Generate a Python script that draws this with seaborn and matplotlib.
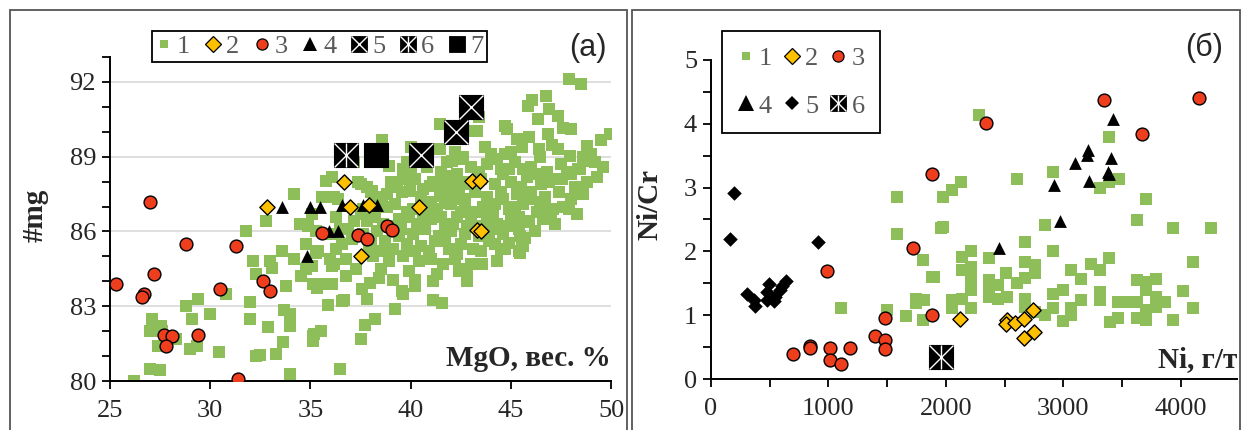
import numpy as np
import pandas as pd
import seaborn as sns
import matplotlib.pyplot as plt
from matplotlib.lines import Line2D
from matplotlib.legend_handler import HandlerTuple
from matplotlib.patches import Rectangle
from matplotlib.ticker import MultipleLocator

# ---------------- panel (a): MgO (wt.%) vs #mg ----------------
a_grp1 = [
    (26.2, 80.0), (27.0, 80.5), (27.5, 80.45), (27.1, 82.5), (27.0, 82.0), (27.55, 82.2), (27.4, 81.4),
    (27.6, 82.0), (28.3, 81.7), (28.8, 83.0), (29.4, 83.3), (29.1, 82.5), (29.0, 81.3), (29.35, 81.4),
    (30.0, 82.7), (30.45, 81.15), (30.8, 83.5), (31.8, 86.0), (32.15, 84.8), (32.3, 84.3), (32.0, 83.15),
    (32.0, 82.5), (32.3, 81.0), (32.5, 81.05), (32.8, 86.4), (33.0, 84.8), (33.1, 84.55), (32.9, 82.15),
    (33.3, 81.1), (33.65, 81.55), (33.7, 82.85), (34.0, 82.7), (33.8, 83.8), (34.0, 82.2), (34.0, 80.3),
    (34.5, 86.3), (34.55, 84.2), (34.8, 85.5), (35.06, 84.6), (35.15, 83.9), (35.15, 81.8), (35.15, 81.6),
    (35.3, 85.15), (35.06, 86.7), (35.35, 83.75), (35.4, 85.2), (34.8, 84.5), (35.65, 83.9), (36.06, 83.9),
    (35.9, 83.06), (36.6, 83.2), (36.0, 84.9), (36.2, 84.7), (35.2, 81.9), (35.55, 82.0), (36.5, 80.5),
    (37.5, 81.7), (37.7, 82.26), (38.2, 82.5), (37.8, 83.3), (37.55, 83.7), (37.97, 83.94), (38.4, 84.14),
    (38.5, 84.5), (39.1, 84.07), (39.2, 82.9), (39.6, 83.5), (40.2, 84.07), (40.2, 83.8), (41.1, 84.0),
    (41.1, 83.27), (41.55, 83.13), (42.8, 84.5), (42.8, 84.0), (43.55, 84.7), (44.3, 84.8), (45.46, 85.15),
    (45.55, 85.5), (45.46, 85.8), (47.1, 86.9), (46.46, 86.9), (36.7, 83.27), (39.55, 83.6), (36.1, 84.6),
    (38.56, 89.65), (38.9, 88.64), (40.0, 89.4), (39.8, 88.78), (41.47, 90.3), (41.47, 89.3), (42.2, 89.2),
    (42.05, 88.84), (42.6, 88.98), (43.05, 90.05), (37.2, 88.78), (37.5, 87.9), (37.8, 87.77), (38.0, 87.57),
    (38.3, 87.4), (38.8, 87.0), (36.2, 87.4), (36.06, 88.17), (39.6, 88.1), (39.55, 87.57), (39.97, 87.63),
    (40.97, 87.83), (41.3, 87.9), (41.9, 88.24), (42.3, 88.3), (42.2, 87.83), (40.1, 86.9), (41.47, 87.43),
    (41.7, 87.16), (42.6, 87.3), (40.6, 86.6), (41.1, 86.77), (42.96, 86.77),
    (47.9, 92.1), (48.5, 91.9), (46.04, 91.26), (45.87, 91.04), (46.76, 91.44), (46.9, 90.93), (47.37, 90.63),
    (46.37, 90.5), (44.7, 90.25), (44.8, 90.1), (47.6, 90.15), (47.99, 90.1), (46.87, 89.9), (45.3, 89.7),
    (45.55, 89.4), (43.3, 90.05), (47.04, 89.47), (48.8, 89.42), (49.5, 89.65), (49.95, 89.9), (49.0, 89.1),
    (48.87, 88.84), (48.37, 88.5), (44.7, 89.1), (46.46, 88.98), (47.37, 89.3), (47.95, 89.04), (47.54, 88.1),
    (45.4, 85.2), (45.6, 85.4), (45.7, 85.75), (44.7, 85.3), (44.9, 85.55), (45.8, 86.36), (45.4, 86.09),
    (35.8, 88.04), (43.4, 90.6), (38.56, 87.17), (37.4, 87.97), (38.06, 87.63), (36.4, 87.3), (39.6, 88.5),
    (41.1, 87.97), (41.8, 88.78), (42.46, 88.9), (48.45, 88.5),
    # dense core of the cloud
    (40.8, 88.6), (41.5, 88.4), (43.0, 88.6), (43.8, 88.7), (44.5, 88.5), (45.2, 88.8), (46.0, 88.6),
    (46.8, 88.4), (47.5, 88.7), (48.0, 88.3), (49.2, 88.8), (44.0, 89.1), (45.0, 89.2),
    (39.0, 88.0), (40.2, 88.1), (42.7, 88.0), (43.5, 88.1), (44.2, 87.9), (45.0, 88.0), (45.8, 88.2),
    (46.5, 87.9), (47.2, 88.1), (48.2, 87.8), (48.8, 88.0), (49.3, 88.2), (44.6, 88.3),
    (38.8, 87.5), (40.5, 87.4), (41.8, 87.6), (42.4, 87.5), (43.2, 87.6), (43.8, 87.4), (44.5, 87.6),
    (45.3, 87.5), (46.0, 87.6), (46.7, 87.4), (47.4, 87.6), (48.0, 87.3), (48.6, 87.5), (41.0, 87.2),
    (37.6, 86.9), (39.2, 87.1), (39.8, 86.8), (40.8, 87.0), (41.3, 86.9), (42.0, 87.1), (42.5, 86.8),
    (43.6, 87.0), (44.2, 87.1), (44.9, 86.9), (45.6, 87.1), (46.3, 86.8), (47.6, 87.0), (48.3, 86.7),
    (36.3, 86.6), (37.2, 86.4), (38.2, 86.6), (39.4, 86.5), (40.3, 86.3), (41.0, 86.5), (41.7, 86.3),
    (42.3, 86.6), (43.0, 86.4), (43.8, 86.5), (44.3, 86.3), (45.0, 86.6), (45.9, 86.4), (46.6, 86.5),
    (47.2, 86.3), (35.3, 86.0), (36.9, 86.1), (37.6, 85.9), (38.3, 86.0), (39.5, 86.1), (40.1, 85.9),
    (40.7, 86.1), (41.4, 85.8), (42.0, 86.0), (42.7, 85.9), (43.4, 85.8), (44.0, 86.1), (44.6, 85.9),
    (46.2, 86.0), (36.6, 85.5), (38.7, 85.6), (39.1, 85.3), (39.8, 85.5), (40.5, 85.4), (41.2, 85.6),
    (41.9, 85.3), (42.5, 85.5), (43.1, 85.3), (43.9, 85.6), (44.5, 85.3), (37.9, 85.2), (36.3, 85.3),
    (36.8, 84.9), (38.1, 85.0), (38.9, 84.8), (39.6, 85.0), (40.4, 84.8), (41.0, 84.9), (41.6, 84.7),
    (42.2, 84.9), (43.0, 84.7), (33.6, 85.2), (34.2, 84.9), (37.3, 84.5), (39.9, 84.4), (41.3, 84.3),
    (42.4, 84.4), (36.8, 84.2), (34.2, 87.5), (35.6, 87.4),
    # extra fill of the core
    (39.3, 87.8), (40.0, 88.3), (40.6, 87.7), (41.6, 88.0), (42.9, 87.9), (43.4, 88.4), (44.9, 88.5),
    (45.5, 87.8), (46.2, 88.3), (46.9, 88.0), (47.8, 88.4), (42.7, 87.2), (43.5, 86.8), (44.6, 87.3),
    (45.2, 87.0), (45.9, 87.3), (46.5, 87.2), (47.0, 86.7), (47.9, 86.9), (39.0, 86.2), (39.9, 86.6),
    (40.7, 86.6), (41.5, 86.6), (42.1, 86.3), (42.8, 86.2), (43.5, 86.2), (44.1, 86.7), (44.8, 86.2),
    (45.4, 86.6), (38.0, 85.6), (38.5, 85.2), (39.4, 85.8), (40.2, 85.2), (40.9, 85.2), (41.7, 85.6),
    (42.3, 85.1), (43.5, 85.2), (44.2, 85.5), (37.1, 85.7), (36.5, 86.1), (37.8, 86.4), (38.6, 86.3),
    (43.7, 89.4), (44.3, 88.9), (45.6, 88.5), (46.4, 89.3), (48.6, 89.0), (49.6, 88.6), (45.9, 89.8),
    (37.5, 86.7), (36.0, 85.9), (34.9, 86.2),
]
a_grp2 = [(32.85, 87.0), (37.0, 87.0), (37.9, 87.05), (40.4, 87.0), (37.5, 85.0), (43.3, 86.05),
          (43.5, 86.0), (36.7, 88.0), (43.05, 88.04), (43.46, 88.04)]
a_grp3 = [(25.3, 83.9), (27.0, 87.2), (26.7, 83.5), (26.6, 83.36), (27.2, 84.3), (28.8, 85.5),
          (31.3, 85.4), (30.5, 83.7), (32.65, 84.0), (33.0, 83.6), (27.7, 81.85), (28.1, 81.8),
          (27.8, 81.4), (29.4, 81.85), (31.4, 80.1), (35.6, 85.95), (37.4, 85.85), (37.8, 85.7),
          (38.8, 86.2), (39.05, 86.05)]
a_grp4 = [(33.57, 87.0), (35.0, 87.0), (35.5, 87.0), (34.85, 85.0), (36.6, 87.05), (37.6, 87.05),
          (38.3, 87.05), (35.95, 86.0), (36.36, 86.0)]
a_grp5 = [(40.5, 89.05), (42.25, 89.99), (43.0, 91.0)]
a_grp6 = [(36.76, 89.05)]
a_grp7 = [(38.26, 89.07)]

# ---------------- panel (б): Ni (g/t) vs Ni/Cr ----------------
b_grp1 = [
    (2285, 4.14), (3391, 3.80), (2607, 3.13), (2917, 3.24), (2128, 3.09), (2049, 2.96), (1977, 2.85),
    (3310, 3.00), (3391, 3.08), (3473, 3.13), (3709, 2.82), (1587, 2.85), (1581, 2.28), (1957, 2.36),
    (1809, 1.87), (1886, 1.60), (1103, 1.12), (1501, 1.08), (1658, 0.99), (1744, 1.25), (1744, 1.19),
    (1815, 1.24), (1809, 0.92), (1977, 2.38), (1900, 1.60), (3630, 2.49), (3938, 2.36), (4259, 2.36),
    (2846, 2.41), (2678, 2.15), (2917, 2.00), (2214, 2.00), (2134, 1.91), (2134, 1.71), (2214, 1.76),
    (2214, 1.58), (2370, 1.89), (2678, 1.84), (2761, 1.79), (2761, 1.66), (2513, 1.66), (2607, 1.50),
    (2678, 1.58), (2370, 1.55), (2370, 1.42), (2442, 1.47), (2442, 1.26), (2521, 1.29), (2370, 1.29),
    (2214, 1.39), (2134, 1.26), (2049, 1.24), (2049, 1.11), (2214, 1.12), (2678, 1.26), (2678, 1.13),
    (2846, 1.00), (2917, 1.11), (2917, 1.33), (2997, 1.39), (3068, 1.71), (3154, 1.56), (3239, 1.81),
    (3310, 1.71), (3391, 1.89), (3154, 1.24), (3068, 1.11), (3068, 1.00), (2997, 0.91), (3310, 1.37),
    (3310, 1.24), (3396, 0.90), (3467, 0.95), (3467, 1.21), (3553, 1.21), (3630, 1.55), (3630, 1.21),
    (3630, 0.95), (3709, 1.52), (3709, 1.39), (3709, 1.08), (3709, 0.92), (3786, 1.56), (3786, 1.29),
    (3786, 1.13), (3866, 1.21), (3938, 0.93), (4023, 1.38), (4108, 1.84), (4108, 1.12), (2761, 1.05),
]
b_grp2 = [(2122, 0.94), (2521, 0.92), (2513, 0.86), (2590, 0.88), (2670, 0.94), (2741, 1.08),
          (2750, 0.74), (2670, 0.64)]
b_grp3 = [(695, 0.39), (846, 0.52), (840, 0.48), (1017, 0.48), (1017, 0.29), (1103, 0.235),
          (1182, 0.48), (1399, 0.67), (1479, 0.61), (1484, 0.475), (1481, 0.96), (989, 1.70),
          (1721, 2.05), (1886, 1.00), (1886, 3.21), (2342, 4.02), (3345, 4.37), (3667, 3.84), (4157, 4.41)]
b_grp4 = [(3425, 4.07), (3211, 3.59), (3205, 3.51), (3103, 3.39), (3410, 3.46), (3382, 3.25),
          (3216, 3.10), (2920, 3.04), (2969, 2.47), (2450, 2.05), (3390, 3.22)]
b_grp5 = [(199, 2.92), (162, 2.20), (909, 2.15), (305, 1.33), (362, 1.24), (376, 1.14), (498, 1.49),
          (476, 1.37), (481, 1.24), (547, 1.29), (538, 1.23), (584, 1.39), (641, 1.54), (604, 1.45)]
b_grp6 = [(1957, 0.35)]

labels_a = ['1', '2', '3', '4', '5', '6', '7']
labels_b = ['1', '2', '3', '4', '5', '6']

GREEN = '#8DBE5A'
RED = '#EE3E1E'
YELLOW = '#FFC000'

sns.set_style('ticks')
plt.rcParams['font.family'] = ['Liberation Serif', 'DejaVu Serif']
plt.rcParams['axes.linewidth'] = 1.4

fig = plt.figure(figsize=(12.45, 4.3), dpi=100)
W, H = 1245, 430
axA = fig.add_axes([110 / W, 1 - 381 / H, 501 / W, 324 / H])
axB = fig.add_axes([711 / W, 1 - 379 / H, 526 / W, 319 / H])


def df(pts, cx, cy):
    return pd.DataFrame(pts, columns=[cx, cy])


def boxed(ax, d, cx, cy, s, cross=True, bar=False):
    sns.scatterplot(data=d, x=cx, y=cy, marker='s', s=s, color='black',
                    edgecolor='black', linewidth=0.8, ax=ax, zorder=6)
    if cross:
        ax.scatter(d[cx], d[cy], marker='x', s=s * 0.92, color='white', linewidths=1.0, zorder=7)
    if bar:
        ax.scatter(d[cx], d[cy], marker='|', s=s * 0.92, color='white', linewidths=1.0, zorder=7)


# ---- panel (a)
xa, ya = 'MgO', 'mg'
sns.scatterplot(data=df(a_grp1, xa, ya), x=xa, y=ya, marker='s', s=80, color=GREEN,
                linewidth=0, ax=axA, zorder=2)
sns.scatterplot(data=df(a_grp4, xa, ya), x=xa, y=ya, marker='^', s=85, color='black',
                linewidth=0, ax=axA, zorder=3)
sns.scatterplot(data=df(a_grp3, xa, ya), x=xa, y=ya, marker='o', s=85, color=RED,
                edgecolor='black', linewidth=1.0, ax=axA, zorder=4)
sns.scatterplot(data=df(a_grp2, xa, ya), x=xa, y=ya, marker='D', s=60, color=YELLOW,
                edgecolor='black', linewidth=1.0, ax=axA, zorder=5)
boxed(axA, df(a_grp5, xa, ya), xa, ya, 320)
boxed(axA, df(a_grp6, xa, ya), xa, ya, 320, bar=True)
boxed(axA, df(a_grp7, xa, ya), xa, ya, 320, cross=False)

axA.set_xlim(25, 50)
axA.set_ylim(80, 93)
axA.xaxis.set_major_locator(MultipleLocator(5))
axA.yaxis.set_minor_locator(MultipleLocator(1))
axA.set_yticks([80, 83, 86, 89, 92])
axA.yaxis.grid(True, which='major', color='#d9d9d9', linewidth=1.2, zorder=0)
axA.set_axisbelow(True)
axA.set_xlabel('')
axA.set_ylabel('')
axA.text(1.0, 0.045, 'MgO, вес. %', transform=axA.transAxes, ha='right', va='baseline',
         fontsize=21, fontweight='bold')

# ---- panel (б)
xb, yb = 'Ni', 'NiCr'
sns.scatterplot(data=df(b_grp1, xb, yb), x=xb, y=yb, marker='s', s=80, color=GREEN,
                linewidth=0, ax=axB, zorder=2)
sns.scatterplot(data=df(b_grp3, xb, yb), x=xb, y=yb, marker='o', s=85, color=RED,
                edgecolor='black', linewidth=1.0, ax=axB, zorder=3)
sns.scatterplot(data=df(b_grp4, xb, yb), x=xb, y=yb, marker='^', s=85, color='black',
                linewidth=0, ax=axB, zorder=4)
sns.scatterplot(data=df(b_grp2, xb, yb), x=xb, y=yb, marker='D', s=60, color=YELLOW,
                edgecolor='black', linewidth=1.0, ax=axB, zorder=5)
sns.scatterplot(data=df(b_grp5, xb, yb), x=xb, y=yb, marker='D', s=55, color='black',
                linewidth=0, ax=axB, zorder=5)
boxed(axB, df(b_grp6, xb, yb), xb, yb, 320, bar=True)

axB.set_xlim(0, 4480)
axB.set_ylim(0, 5)
axB.xaxis.set_major_locator(MultipleLocator(1000))
axB.xaxis.set_minor_locator(MultipleLocator(500))
axB.yaxis.set_major_locator(MultipleLocator(1))
axB.yaxis.set_minor_locator(MultipleLocator(0.5))
axB.set_xlabel('')
axB.set_ylabel('')
axB.text(1.0, 0.038, 'Ni, г/т', transform=axB.transAxes, ha='right', va='baseline',
         fontsize=21, fontweight='bold')

for ax in (axA, axB):
    sns.despine(ax=ax)
    ax.set_facecolor('none')
    for sp in ('left', 'bottom'):
        ax.spines[sp].set_color('black')
        ax.spines[sp].set_linewidth(1.4)
    ax.tick_params(which='both', direction='out', length=6, width=1.3, color='black',
                   labelsize=19, pad=4)
    ax.tick_params(axis='x', pad=8)

fig.text(35 / W, 1 - 215 / H, '#mg', rotation=90, ha='center', va='center',
         fontsize=21, fontweight='bold')
fig.text(650 / W, 1 - 205 / H, 'Ni/Cr', rotation=90, ha='center', va='center',
         fontsize=21, fontweight='bold')
fig.text(588 / W, 1 - 48 / H, '(a)', ha='center', va='center', fontsize=22,
         family=['Liberation Sans', 'DejaVu Sans'])
fig.text(1204 / W, 1 - 48 / H, '(б)', ha='center', va='center', fontsize=22,
         family=['Liberation Sans', 'DejaVu Sans'])

# outer frames of the two panels
fig.patches.append(Rectangle((10 / W, -0.05), 617 / W, 1.05 - 10 / H, transform=fig.transFigure,
                             fill=False, edgecolor='#555555', linewidth=1.3))
fig.patches.append(Rectangle((632 / W, -0.05), 608 / W, 1.05 - 10 / H, transform=fig.transFigure,
                             fill=False, edgecolor='#555555', linewidth=1.3))


# ---- legends
def h_simple(marker, color, ms, edge='black', mew=0.9):
    return Line2D([], [], linestyle='none', marker=marker, markersize=ms, markerfacecolor=color,
                  markeredgecolor=edge, markeredgewidth=mew)


def h_box(ms, cross=True, bar=False):
    parts = [h_simple('s', 'black', ms, mew=0.6)]
    if cross:
        parts.append(Line2D([], [], linestyle='none', marker='x', markersize=ms * 0.92,
                            markeredgecolor='white', markeredgewidth=1.0))
    if bar:
        parts.append(Line2D([], [], linestyle='none', marker='|', markersize=ms * 0.92,
                            markeredgecolor='white', markeredgewidth=1.0))
    return tuple(parts)


tuple_handler = {tuple: HandlerTuple(ndivide=1, pad=0)}

hA = [h_simple('s', GREEN, 6, edge=GREEN, mew=0), h_simple('D', YELLOW, 8),
      h_simple('o', RED, 8), h_simple('^', 'black', 10, mew=0),
      h_box(12), h_box(12, bar=True), h_box(12, cross=False)]
legA = fig.legend(hA, labels_a, loc='upper left', bbox_to_anchor=(152 / W, 1 - 31 / H),
                  bbox_transform=fig.transFigure, ncol=7, frameon=True, fancybox=False,
                  edgecolor='black', framealpha=1, fontsize=19, handlelength=0.6,
                  handletextpad=0.2, columnspacing=0.55, borderpad=0.15, borderaxespad=0,
                  handler_map=tuple_handler)
legA.get_frame().set_linewidth(1.3)
for t in legA.get_texts():
    t.set_color('#595959')

hB = [h_simple('s', GREEN, 6, edge=GREEN, mew=0), h_simple('^', 'black', 11, mew=0),
      h_simple('D', YELLOW, 8), h_simple('D', 'black', 7, mew=0),
      h_simple('o', RED, 8), h_box(12, bar=True)]
labB = [labels_b[0], labels_b[3], labels_b[1], labels_b[4], labels_b[2], labels_b[5]]
legB = fig.legend(hB, labB, loc='upper left', bbox_to_anchor=(722 / W, 1 - 31 / H),
                  bbox_transform=fig.transFigure, ncol=3, frameon=True, fancybox=False,
                  edgecolor='black', framealpha=1, fontsize=19, handlelength=0.6,
                  handletextpad=0.2, columnspacing=0.45, borderpad=0.6, labelspacing=0.9,
                  borderaxespad=0, handler_map=tuple_handler)
legB.get_frame().set_linewidth(1.3)
for t in legB.get_texts():
    t.set_color('#595959')

fig.savefig('out.png', dpi=100)
